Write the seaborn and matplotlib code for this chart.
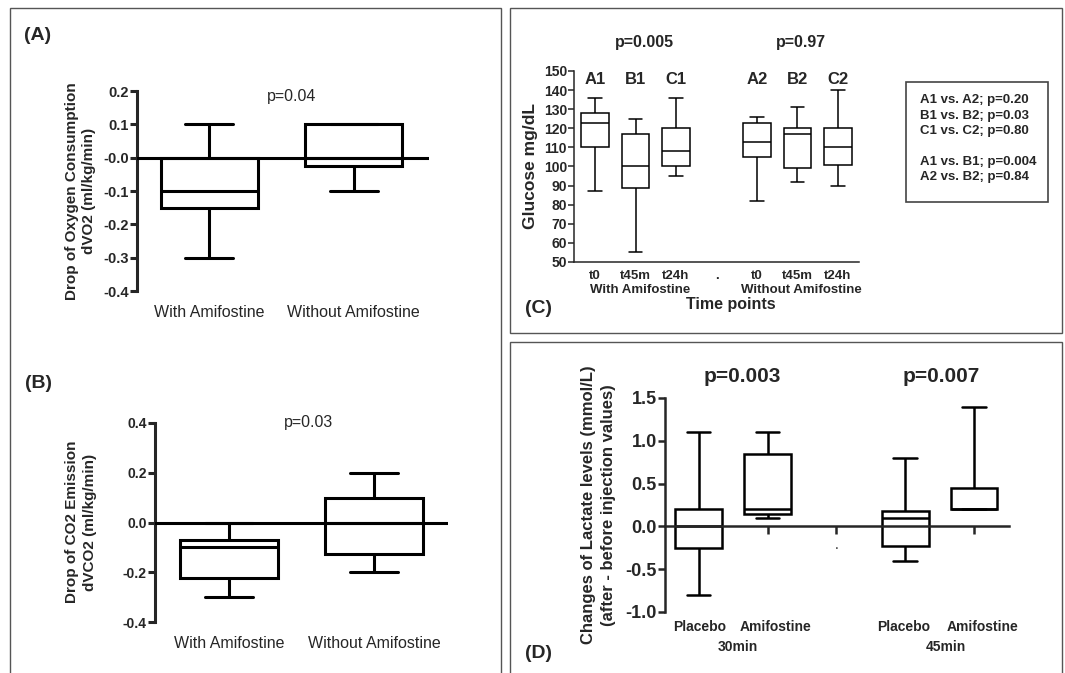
import numpy as np
import pandas as pd
import matplotlib
matplotlib.use("Agg")
import matplotlib.pyplot as plt
from matplotlib.patches import Rectangle
import seaborn as sns

# ---------------- data (five-number summaries) ----------------
# Panel A: drop of oxygen consumption dVO2 (ml/kg/min)
ab_groups = ["With Amifostine", "Without Amifostine"]
vo2_with = [-0.30, -0.15, -0.10, 0.00, 0.10]
vo2_without = [-0.10, -0.025, 0.00, 0.10, 0.10]
vo2_ticks = [-0.4, -0.3, -0.2, -0.1, 0.0, 0.1, 0.2]
vo2_ticklabels = ["-0.4", "-0.3", "-0.2", "-0.1", "-0.0", "0.1", "0.2"]

# Panel B: drop of CO2 emission dVCO2 (ml/kg/min)
vco2_with = [-0.30, -0.225, -0.10, -0.07, 0.00]
vco2_without = [-0.20, -0.125, 0.00, 0.10, 0.20]
vco2_ticks = [-0.4, -0.2, 0.0, 0.2, 0.4]
vco2_ticklabels = ["-0.4", "-0.2", "0.0", "0.2", "0.4"]

# Panel C: glucose mg/dL
glu_order = ["A1", "B1", "C1", ".", "A2", "B2", "C2"]
glu_ticklabels = ["t0", "t45m", "t24h", ".", "t0", "t45m", "t24h"]
glu_A1 = [87, 110, 123, 128, 136]
glu_B1 = [55, 89, 100, 117, 125]
glu_C1 = [95, 100, 108, 120, 136]
glu_A2 = [82, 105, 113, 123, 126]
glu_B2 = [92, 99, 117, 120, 131]
glu_C2 = [90, 101, 110, 120, 140]
glu_ticks = list(range(50, 151, 10))
glu_box_text = ["A1 vs. A2; p=0.20", "B1 vs. B2; p=0.03", "C1 vs. C2; p=0.80", "",
                "A1 vs. B1; p=0.004", "A2 vs. B2; p=0.84"]

# Panel D: lactate changes (mmol/L)
lac_order = ["P30", "A30", ".", "P45", "A45"]
lac_P30 = [-0.80, -0.25, 0.00, 0.20, 1.10]
lac_A30 = [0.10, 0.145, 0.20, 0.85, 1.10]
lac_P45 = [-0.40, -0.225, 0.10, 0.18, 0.80]
lac_A45 = [0.20, 0.20, 0.20, 0.45, 1.40]
lac_ticks = [-1.0, -0.5, 0.0, 0.5, 1.0, 1.5]
lac_ticklabels = ["-1.0", "-0.5", "0.0", "0.5", "1.0", "1.5"]

# ---------------- styling ----------------
sns.set_style("ticks")
plt.rcParams["font.family"] = ["Liberation Sans", "DejaVu Sans"]
plt.rcParams["axes.unicode_minus"] = False

W, H = 1065, 673
fig = plt.figure(figsize=(W / 100, H / 100), dpi=100)


def rect(l, t, r, b):
    return [l / W, 1 - b / H, (r - l) / W, (b - t) / H]


def ftext(x, y, s, **kw):
    kw.setdefault("ha", "center")
    kw.setdefault("va", "center")
    fig.text(x / W, 1 - y / H, s, **kw)


def long_df(names, arrays):
    return pd.DataFrame({"group": np.repeat(names, [len(a) for a in arrays]),
                         "value": np.concatenate(arrays)})


def boxes(ax, df, order, lw, width):
    sns.boxplot(data=df, x="group", y="value", order=order, color="white",
                linecolor="black", linewidth=lw, width=width, whis=(0, 100),
                showfliers=False, ax=ax)
    ax.set_xlabel("")
    ax.set_ylabel("")


# panel frames
for l, t, r, b in [(10, 8, 501, 690), (510, 8, 1062, 333), (510, 342, 1062, 690)]:
    fig.add_artist(Rectangle((l / W, 1 - b / H), (r - l) / W, (b - t) / H,
                             transform=fig.transFigure, fill=False,
                             edgecolor="#555555", linewidth=1.0))

# ---------------- Panel A ----------------
axA = fig.add_axes(rect(137, 91, 429, 291))
boxes(axA, long_df(ab_groups, [vo2_with, vo2_without]), ab_groups, 2.2, 0.67)
axA.set_xlim(-0.5, 1.52)
axA.set_ylim(-0.4, 0.2)
axA.axhline(0, color="black", linewidth=2.2, zorder=3)
axA.set_yticks(vo2_ticks)
axA.set_yticklabels(vo2_ticklabels, fontsize=10.5, fontweight="bold")
axA.set_xticks([0, 1])
axA.set_xticklabels(ab_groups, fontsize=11.5)
axA.tick_params(axis="x", length=0, pad=10)
axA.tick_params(axis="y", length=5, width=2.2, pad=1)
sns.despine(ax=axA, bottom=True)
axA.spines["left"].set_linewidth(2.2)
ftext(38, 35, "(A)", fontsize=14, fontweight="bold")
ftext(292, 97, "p=0.04", fontsize=11.5)
ftext(72, 191, "Drop of Oxygen Consumption", rotation=90, fontsize=11, fontweight="bold")
ftext(89, 191, "dVO2 (ml/kg/min)", rotation=90, fontsize=11, fontweight="bold")

# ---------------- Panel B ----------------
axB = fig.add_axes(rect(155, 423, 448, 622))
boxes(axB, long_df(ab_groups, [vco2_with, vco2_without]), ab_groups, 2.2, 0.67)
axB.set_xlim(-0.51, 1.51)
axB.set_ylim(-0.4, 0.4)
axB.axhline(0, color="black", linewidth=2.2, zorder=3)
axB.set_yticks(vco2_ticks)
axB.set_yticklabels(vco2_ticklabels, fontsize=10, fontweight="bold")
axB.set_xticks([0, 1])
axB.set_xticklabels(ab_groups, fontsize=11.5)
axB.tick_params(axis="x", length=0, pad=10)
axB.tick_params(axis="y", length=5, width=2.2, pad=1)
sns.despine(ax=axB, bottom=True)
axB.spines["left"].set_linewidth(2.2)
ftext(38, 383, "(B)", fontsize=14, fontweight="bold")
ftext(309, 422, "p=0.03", fontsize=11.5)
ftext(72, 522, "Drop of CO2 Emission", rotation=90, fontsize=11, fontweight="bold")
ftext(90, 522, "dVCO2 (ml/kg/min)", rotation=90, fontsize=11, fontweight="bold")

# ---------------- Panel C ----------------
axC = fig.add_axes(rect(574, 71, 859, 262))
glu_names = ["A1", "B1", "C1", "A2", "B2", "C2"]
boxes(axC, long_df(glu_names, [glu_A1, glu_B1, glu_C1, glu_A2, glu_B2, glu_C2]),
      glu_order, 1.1, 0.68)
axC.set_xlim(-0.52, 6.52)
axC.set_ylim(50, 150)
axC.set_yticks(glu_ticks)
axC.set_yticklabels([str(v) for v in glu_ticks], fontsize=10, fontweight="bold")
axC.set_xticks(range(len(glu_order)))
axC.set_xticklabels(glu_ticklabels, fontsize=9.5, fontweight="bold")
axC.tick_params(axis="x", length=0, pad=6)
axC.tick_params(axis="y", length=4, width=1.1, pad=1)
sns.despine(ax=axC)
axC.spines["left"].set_linewidth(1.1)
axC.spines["bottom"].set_linewidth(1.1)
for i, name in enumerate(glu_order):
    if name != ".":
        axC.text(i, 145.8, name, ha="center", va="center", fontsize=12, fontweight="bold")
ftext(644, 43, "p=0.005", fontsize=11.5, fontweight="bold")
ftext(801, 43, "p=0.97", fontsize=11.5, fontweight="bold")
ftext(640, 290, "With Amifostine", fontsize=9.5, fontweight="bold")
ftext(801, 290, "Without Amifostine", fontsize=9.5, fontweight="bold")
ftext(731, 305, "Time points", fontsize=11.5, fontweight="bold")
ftext(538, 309, "(C)", fontsize=14, fontweight="bold")
ftext(531, 166, "Glucose mg/dL", rotation=90, fontsize=12.5, fontweight="bold")
fig.add_artist(Rectangle((906 / W, 1 - 202 / H), (1048 - 906) / W, (202 - 82) / H,
                         transform=fig.transFigure, fill=False,
                         edgecolor="#444444", linewidth=1.2))
for k, line in enumerate(glu_box_text):
    if line:
        ftext(920, 100 + k * 15.5, line, ha="left", fontsize=9.5, fontweight="bold")

# ---------------- Panel D ----------------
axD = fig.add_axes(rect(665, 398, 1009, 612))
lac_names = ["P30", "A30", "P45", "A45"]
boxes(axD, long_df(lac_names, [lac_P30, lac_A30, lac_P45, lac_A45]), lac_order, 1.8, 0.68)
axD.set_xlim(-0.49, 4.51)
axD.set_ylim(-1.0, 1.5)
axD.set_yticks(lac_ticks)
axD.set_yticklabels(lac_ticklabels, fontsize=13, fontweight="bold")
axD.set_xticks(range(len(lac_order)))
axD.set_xticklabels(["", "", ".", "", ""], fontsize=11, fontweight="bold")
sns.despine(ax=axD)
axD.spines["bottom"].set_position(("data", 0))
axD.spines["bottom"].set_zorder(3)
axD.spines["left"].set_linewidth(1.8)
axD.spines["bottom"].set_linewidth(1.8)
axD.tick_params(axis="x", length=6, width=1.8, pad=2)
axD.tick_params(axis="y", length=5, width=1.8, pad=1)
ftext(742, 377, "p=0.003", fontsize=15, fontweight="bold")
ftext(941, 377, "p=0.007", fontsize=15, fontweight="bold")
ftext(700, 627, "Placebo", fontsize=10, fontweight="bold")
ftext(776, 627, "Amifostine", fontsize=10, fontweight="bold")
ftext(904, 627, "Placebo", fontsize=10, fontweight="bold")
ftext(983, 627, "Amifostine", fontsize=10, fontweight="bold")
ftext(738, 647, "30min", fontsize=10, fontweight="bold")
ftext(946, 647, "45min", fontsize=10, fontweight="bold")
ftext(538, 653, "(D)", fontsize=14, fontweight="bold")
ftext(588, 505, "Changes of Lactate levels (mmol/L)", rotation=90, fontsize=12, fontweight="bold")
ftext(608, 505, "(after - before injection values)", rotation=90, fontsize=12, fontweight="bold")

fig.savefig("out.png", dpi=100)
